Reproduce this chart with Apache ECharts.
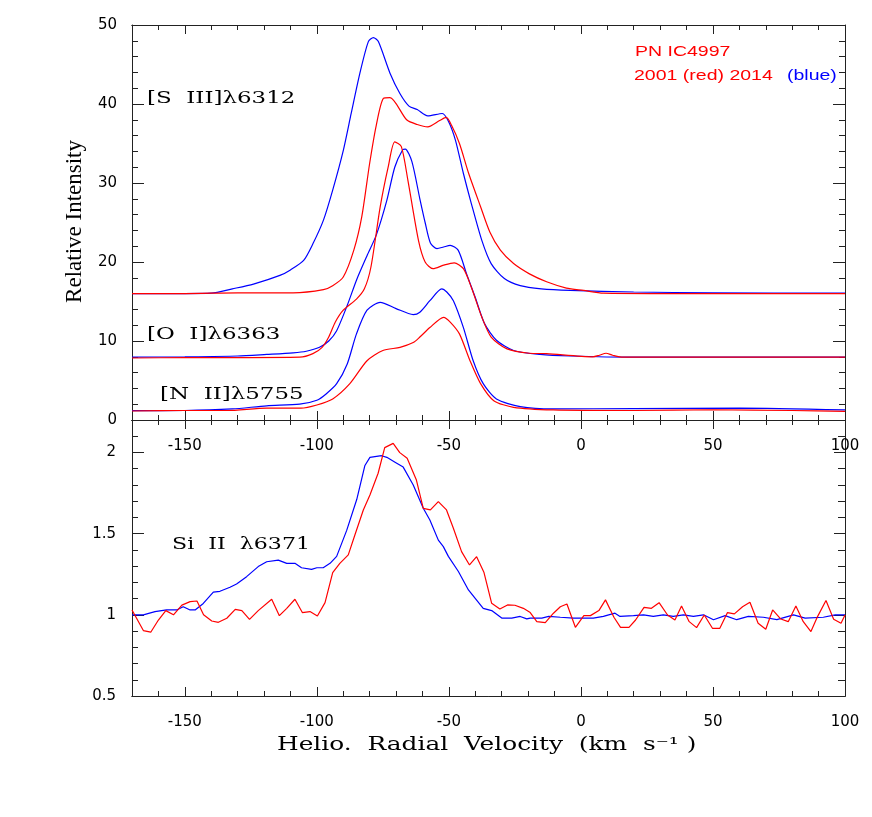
<!DOCTYPE html>
<html>
<head>
<meta charset="utf-8">
<script src="https://cdn.jsdelivr.net/npm/echarts@6/dist/echarts.min.js"></script>
<style>
  html, body { margin: 0; padding: 0; background: #fff; }
  #chart { width: 872px; height: 817px; }
</style>
</head>
<body>
<div id="chart"></div>
<script>
// tick labels
const velocityTicks = [-150, -100, -50, 0, 50, 100];
const siTicks = [0.5, 1, 1.5, 2];

// [S III] 6312, [v, intensity]
const sIIIRed = [[-170,16.0],[-150,16.0],[-130,16.1],[-109,16.1],[-97.5,16.5],[-94,17.0],[-90,18.1],[-86,21.5],[-83,25.7],[-80,32.5],[-77.5,37.3],[-74.8,40.7],[-72.3,40.8],[-66,38.0],[-62,37.4],[-58,37.1],[-53.5,37.9],[-51,38.3],[-49,37.3],[-46,35.0],[-42.5,31.2],[-38,27.0],[-34.5,23.8],[-30.5,21.5],[-25.5,19.8],[-19.5,18.5],[-13,17.5],[-5.5,16.7],[1,16.4],[8.5,16.05],[30,16.0],[100,16.0]];
const sIIIBlue = [[-170,16.0],[-150,16.0],[-140,16.05],[-132,16.6],[-124,17.2],[-114,18.3],[-110,19.0],[-105,20.2],[-101.5,22.3],[-97.5,25.3],[-94,29.1],[-90,34.1],[-87,38.8],[-83.7,43.9],[-80.5,47.9],[-78.6,48.4],[-76.7,47.9],[-72.3,43.9],[-68.5,41.3],[-65,39.7],[-62,39.3],[-58,38.5],[-52.5,38.8],[-50,37.7],[-47.5,35.4],[-44.5,31.2],[-41.5,27.4],[-37.5,22.7],[-34,19.8],[-29,17.9],[-23,17.0],[-15,16.6],[-4,16.4],[20,16.2],[50,16.1],[100,16.05]];

// [O I] 6363
const oIRed = [[-170,7.85],[-150,7.9],[-130,7.9],[-106.5,7.95],[-101.5,8.4],[-98,9.2],[-95.5,10.5],[-93,12.4],[-90,13.9],[-85,15.3],[-82,16.6],[-79.5,19.4],[-76,27.0],[-73,32.0],[-70.5,35.2],[-68,34.6],[-65.5,30.3],[-61.5,22.7],[-59,20.0],[-56,19.15],[-52,19.6],[-48,19.9],[-44.5,19.15],[-41.5,16.8],[-37.5,13.0],[-34,10.5],[-28,9.0],[-19.5,8.45],[-13,8.4],[4.5,8.0],[7,8.2],[9.5,8.45],[12,8.2],[16,7.95],[100,7.95]];
const oIBlue = [[-170,7.95],[-150,8.0],[-130,8.1],[-119,8.3],[-109,8.5],[-104,8.7],[-99,9.2],[-95.5,10.0],[-92.5,11.3],[-88.5,14.5],[-85,17.7],[-81,20.8],[-77.5,23.4],[-73.5,27.8],[-70.5,32.0],[-67.5,34.2],[-66.5,34.3],[-64,32.7],[-61,28.0],[-59,25.0],[-57,22.4],[-54.5,21.7],[-52,21.9],[-49.5,22.1],[-46.5,21.5],[-43.3,18.5],[-40,15.5],[-36.5,12.2],[-32,10.1],[-25.5,8.8],[-15.5,8.3],[-4,8.1],[20,7.95],[100,7.95]];

// [N II] 5755
const nIIRed = [[-170,1.14],[-150,1.2],[-134,1.2],[-119,1.5],[-106,1.5],[-100,1.9],[-94,2.66],[-87.5,4.6],[-81,7.5],[-75,8.8],[-68.5,9.2],[-63.5,9.8],[-61,10.5],[-57.2,11.7],[-52,13.0],[-49.5,12.4],[-46,10.9],[-42,7.5],[-38,4.6],[-33,2.45],[-25.5,1.6],[-10.5,1.27],[20,1.2],[50,1.3],[80,1.2],[100,1.1]];
const nIIBlue = [[-170,1.18],[-150,1.2],[-132,1.4],[-119,1.8],[-106.5,2.0],[-100,2.5],[-96.5,3.3],[-92.5,4.6],[-88.5,7.1],[-85,10.9],[-81,13.9],[-76,14.9],[-70,14.1],[-63.5,13.35],[-61,13.65],[-57.2,15.1],[-52.7,16.6],[-50.8,16.2],[-48.3,15.1],[-44.5,11.7],[-40.8,7.5],[-37,4.6],[-32,2.66],[-23,1.7],[-10.5,1.4],[20,1.45],[60,1.5],[100,1.27]];

// Si II 6371
const siIIRed = [[-170,1.03],[-165.7,0.903],[-162.9,0.893],[-160,0.968],[-157.2,1.026],[-154.3,1.0],[-151.1,1.06],[-148,1.081],[-145.4,1.085],[-142.9,1.0],[-139.8,0.962],[-137.3,0.954],[-134.1,0.979],[-130.9,1.034],[-128.4,1.026],[-125.5,0.972],[-122.2,1.026],[-117.1,1.096],[-114.2,0.995],[-111.4,1.04],[-108.3,1.096],[-105.5,1.014],[-102.6,1.02],[-99.8,0.993],[-96.9,1.075],[-94,1.26],[-91.3,1.317],[-88.1,1.369],[-85.6,1.492],[-82.4,1.646],[-79.9,1.738],[-76.8,1.872],[-74.3,2.03],[-71.1,2.056],[-68.6,1.999],[-65.8,1.964],[-62.3,1.83],[-59.7,1.656],[-57,1.646],[-54,1.697],[-50.9,1.646],[-48.3,1.533],[-45.2,1.389],[-42.2,1.307],[-39.5,1.358],[-36.7,1.26],[-33.8,1.071],[-30.7,1.036],[-27.8,1.061],[-25,1.059],[-21.8,1.04],[-19.2,1.014],[-16.7,0.958],[-13.5,0.952],[-10.4,1.01],[-7.8,1.05],[-5.3,1.067],[-2.1,0.923],[1.1,0.995],[3.6,0.995],[6.8,1.026],[9.3,1.092],[12.5,0.985],[15,0.923],[18.2,0.923],[20.7,0.968],[23.9,1.046],[26.7,1.04],[29.6,1.075],[32.8,0.999],[35.6,0.968],[38.1,1.055],[41,0.958],[43.8,0.921],[46.7,0.999],[49.8,0.917],[52.6,0.917],[55.5,1.014],[58.1,1.006],[61.2,1.05],[64,1.077],[67.1,0.948],[70,0.911],[72.6,1.03],[75.7,0.974],[78.5,0.958],[81.4,1.055],[84.2,0.958],[87.1,0.897],[89.6,0.989],[92.8,1.088],[95.7,0.973],[98.5,0.948],[100,0.999]];
const siIIBlue = [[-170,1.0],[-165.7,1.0],[-161.3,1.02],[-156.9,1.03],[-153.1,1.03],[-150.6,1.05],[-148,1.03],[-146.1,1.03],[-143,1.07],[-139.2,1.14],[-136.7,1.145],[-132.9,1.17],[-130.4,1.19],[-126.6,1.235],[-122.2,1.297],[-119,1.327],[-114.6,1.337],[-111.4,1.317],[-108.3,1.317],[-105.8,1.29],[-102,1.28],[-100,1.29],[-97.6,1.29],[-95,1.317],[-92.5,1.36],[-88.7,1.52],[-84.9,1.71],[-81.8,1.92],[-79.9,1.97],[-75.5,1.98],[-73.5,1.97],[-70.4,1.94],[-67.3,1.91],[-63.5,1.8],[-59.7,1.656],[-57.2,1.584],[-54,1.46],[-52.1,1.42],[-50.2,1.36],[-46.4,1.267],[-42.6,1.153],[-39.5,1.09],[-37,1.04],[-33.8,1.026],[-30,0.98],[-26.2,0.98],[-23,0.99],[-20.5,0.975],[-19.2,0.98],[-14.8,0.98],[-12.2,0.99],[-7.8,0.985],[-2.8,0.98],[0.4,0.98],[4.7,0.98],[8.5,0.99],[12.9,1.01],[14.8,0.99],[19.9,0.995],[23.7,1.0],[27.4,0.99],[31.2,1.0],[35,0.99],[38.8,1.0],[42.6,0.99],[46.4,1.0],[50.2,0.97],[54.6,0.995],[59,0.97],[63.4,0.99],[69.1,0.985],[74.2,0.97],[80.5,1.0],[84.9,0.98],[91.8,0.985],[96.3,1.0],[100,1.0]];

const RED = '#ff0000';
const BLUE = '#0000ff';
const AXIS = '#222';
const tickFont = { color: '#000', fontSize: 15, fontFamily: 'DejaVu Sans' };

const velocityMinor = [];
for (let v = -170; v <= 100; v += 10) velocityMinor.push(v);
const siMinor = [];
for (let k = 6; k <= 21; k++) siMinor.push(k / 10);

const axisLine = { show: true, onZero: false, lineStyle: { color: AXIS, width: 1 } };

function xAxis(grid, pos, ticks, len, labels) {
  return {
    type: 'value', gridIndex: grid, position: pos, min: -170, max: 100,
    axisLine: axisLine,
    axisTick: { show: true, inside: true, length: len, customValues: ticks, lineStyle: { color: AXIS } },
    axisLabel: labels ? Object.assign({ show: true, customValues: velocityTicks, margin: 19 }, tickFont) : { show: false },
    splitLine: { show: false }
  };
}

function siAxis(pos, ticks, len, labels) {
  return {
    type: 'value', gridIndex: 1, position: pos, min: 0.5, max: 2.2,
    axisLine: axisLine,
    axisTick: { show: true, inside: true, length: len, customValues: ticks, lineStyle: { color: AXIS } },
    axisLabel: labels ? Object.assign({ show: true, customValues: siTicks, margin: 16, padding: [8, 0, 0, 0] }, tickFont) : { show: false },
    splitLine: { show: false }
  };
}

function intensityAxis(pos, labels) {
  return {
    type: 'value', gridIndex: 0, position: pos, min: 0, max: 50, interval: 10,
    axisLine: axisLine,
    axisTick: { show: true, inside: true, length: 12, lineStyle: { color: AXIS } },
    minorTick: { show: true, splitNumber: 5, length: 6, lineStyle: { color: AXIS } },
    axisLabel: labels ? Object.assign({ show: true, margin: 15, padding: [8, 0, 0, 0] }, tickFont) : { show: false },
    splitLine: { show: false }
  };
}

function line(data, color, xi, yi, smooth) {
  return {
    type: 'line', data: data, xAxisIndex: xi, yAxisIndex: yi,
    showSymbol: false, smooth: smooth, silent: true,
    lineStyle: { color: color, width: 1.2 }
  };
}

// stretched text, the original lettering is wide
function label(text, x, y, font, color, sx) {
  return {
    type: 'text', x: x, y: y, scaleX: sx, silent: true,
    style: { text: text, fill: color, font: font, textVerticalAlign: 'middle' }
  };
}

const serif = '17px "DejaVu Serif"';
const sans = '15px "Liberation Sans"';

const chart = echarts.init(document.getElementById('chart'));
chart.setOption({
  animation: false,
  backgroundColor: '#fff',
  grid: [
    { left: 132, width: 713, top: 25, height: 395 },
    { left: 132, width: 713, top: 420, height: 276 }
  ],
  xAxis: [
    xAxis(0, 'bottom', velocityTicks, 9, true),
    xAxis(0, 'bottom', velocityMinor, 5, false),
    xAxis(0, 'top', velocityTicks, 9, false),
    xAxis(0, 'top', velocityMinor, 5, false),
    xAxis(1, 'bottom', velocityTicks, 9, true),
    xAxis(1, 'bottom', velocityMinor, 5, false),
    xAxis(1, 'top', velocityTicks, 9, false),
    xAxis(1, 'top', velocityMinor, 5, false)
  ],
  yAxis: [
    intensityAxis('left', true),
    intensityAxis('right', false),
    siAxis('left', siTicks, 12, true),
    siAxis('left', siMinor, 6, false),
    siAxis('right', siTicks, 11, false),
    siAxis('right', siMinor, 7, false)
  ],
  series: [
    line(sIIIBlue, BLUE, 0, 0, 0.25),
    line(sIIIRed, RED, 0, 0, 0.25),
    line(oIBlue, BLUE, 0, 0, 0.25),
    line(oIRed, RED, 0, 0, 0.25),
    line(nIIBlue, BLUE, 0, 0, 0.25),
    line(nIIRed, RED, 0, 0, 0.25),
    line(siIIBlue, BLUE, 4, 2, false),
    line(siIIRed, RED, 4, 2, false)
  ],
  graphic: [
    label('[S  III]λ6312', 147, 99, serif, '#000', 1.35),
    label('[O  I]λ6363', 147, 335, serif, '#000', 1.35),
    label('[N  II]λ5755', 160, 395, serif, '#000', 1.35),
    label('Si  II  λ6371', 172, 545, serif, '#000', 1.3),
    label('PN IC4997', 635, 52, sans, RED, 1.3),
    label('2001 (red) 2014', 634, 76, sans, RED, 1.3),
    label('(blue)', 787, 76, sans, BLUE, 1.3),
    {
      type: 'text', left: 63, top: 140, rotation: Math.PI / 2, silent: true,
      style: { text: 'Relative Intensity', fill: '#000', font: '23px "Liberation Serif"' }
    },
    label('Helio.  Radial  Velocity  (km  s⁻¹ )', 277, 745, '18px "DejaVu Serif"', '#000', 1.38)
  ]
});
</script>
</body>
</html>
